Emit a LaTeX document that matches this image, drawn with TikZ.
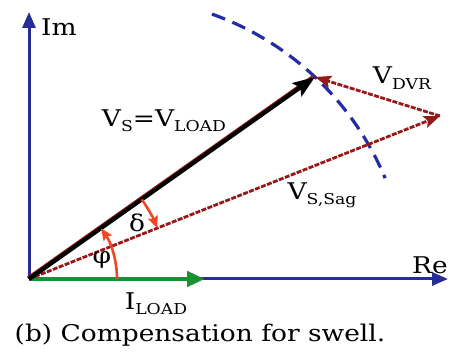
\documentclass[tikz,border=0pt]{standalone}
\usepackage{fontspec}
\setmainfont[FakeStretch=1.15]{DejaVu Serif}
\usepackage{xcolor}
\usetikzlibrary{arrows.meta}

\definecolor{axisblue}{RGB}{40,45,150}
\definecolor{arcblue}{RGB}{35,45,165}
\definecolor{vecred}{RGB}{150,25,25}
\definecolor{angred}{RGB}{240,70,35}
\definecolor{loadgreen}{RGB}{25,145,50}
\newcommand{\lowtxt}[1]{\raisebox{-0.45ex}{\fontsize{7.5}{8}\selectfont #1}}

\begin{document}
\begin{tikzpicture}[
    x=0.5pt, y=0.5pt,
    font=\fontsize{11.5}{13}\selectfont,
    axis/.style={axisblue, line width=1.5pt,
                 -{Triangle[length=8pt, width=6.5pt]}},
    swellarc/.style={arcblue, line width=1.6pt, dash pattern=on 7pt off 4pt},
    vecdash/.style={vecred, line width=1.4pt, dash pattern=on 2.5pt off 0.7pt,
                    -{Stealth[length=8pt, width=6pt, inset=1.5pt]}},
    vecsrc/.style={black, line width=2.1pt,
                   -{Stealth[length=11pt, width=8pt, inset=2pt]}},
    vecload/.style={loadgreen, line width=2.2pt,
                    -{Triangle[length=9pt, width=7.5pt]}},
    angarc/.style={angred, line width=1.3pt,
                   -{Stealth[length=6pt, width=5pt, inset=1pt]}},
]
\useasboundingbox (0,0) rectangle (449,352);

% points of the phasor diagram
\coordinate (O) at (29,73);
\coordinate (im) at (29,340);
\coordinate (re) at (448,73);
\coordinate (vs) at (315,275);
\coordinate (sag) at (440,236);
\coordinate (iload) at (205,73);
\coordinate (ctr) at (113,60);

% axes
\draw[axis] (O) -- (im);
\draw[axis] (O) -- (re);

% locus of the load voltage
\draw[swellarc] ([shift={(70.4:147.5pt)}]ctr) arc[start angle=70.4, end angle=22.7, radius=147.5pt];

% phasors
\draw[vecload] (O) -- (iload);
\draw[vecdash] (O) -- (sag);
\draw[vecdash] (sag) -- (vs);
\draw[vecred, line width=1pt] ([shift={(-1.5,1.5)}]O) -- ([shift={(-1.5,1.5)}]vs);
\draw[vecsrc] (O) -- (vs);

% angles
\draw[angarc] ([shift={(0:44pt)}]O) arc[start angle=0, end angle=35.2, radius=44pt];
\draw[angarc] ([shift={(35.2:69pt)}]O) arc[start angle=35.2, end angle=21.6, radius=69pt];

% labels
\node (imlbl) at (59,325) {Im};
\node (relbl) at (430,87) {Re};
\node (vslbl) at (164,231) {V\lowtxt{S}=V\lowtxt{LOAD}};
\node (dvrlbl) at (402,274) {V\lowtxt{DVR}};
\node (saglbl) at (322,157) {V\lowtxt{S,Sag}};
\node (dlbl) at (137,129) {δ};
\node (philbl) at (102,92) {φ};
\node (iloadlbl) at (156,48) {I\lowtxt{LOAD}};
\node (caption) at (200,17) {(b) Compensation for swell.};
\end{tikzpicture}
\end{document}
